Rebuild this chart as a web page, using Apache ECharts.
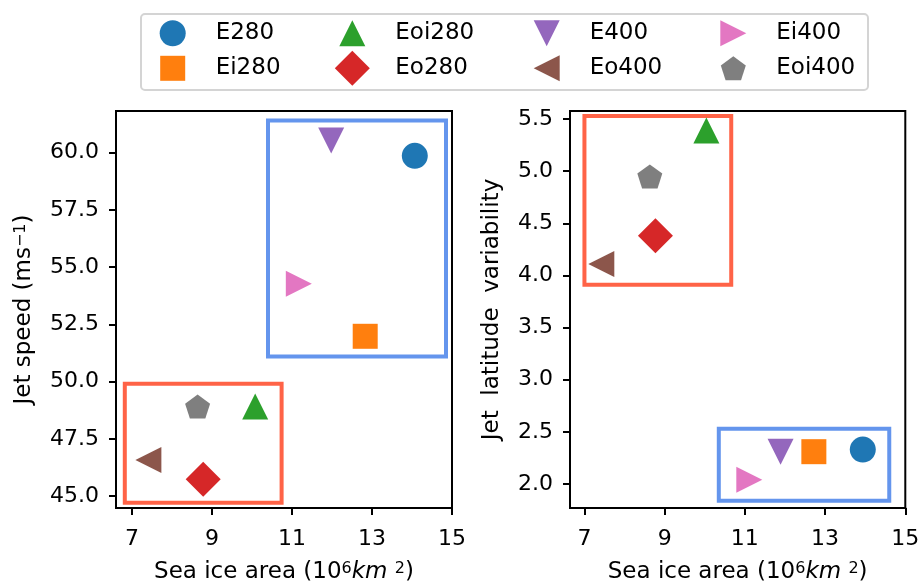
<!DOCTYPE html>
<html><head><meta charset="utf-8">
<script src="https://cdn.jsdelivr.net/npm/echarts@6/dist/echarts.min.js"></script>
<style>html,body{margin:0;padding:0;background:#fff}#c{width:919px;height:583px}</style>
</head><body><div id="c"></div>
<script>
// ---- data ----
const names = ['E280', 'Ei280', 'Eoi280', 'Eo280', 'E400', 'Eo400', 'Ei400', 'Eoi400'];
const speedSeaIce = [14.07, 12.83, 10.08, 8.78, 11.98, 7.41, 11.17, 8.64];
const speedValues = [59.86, 51.98, 48.91, 45.74, 60.53, 46.58, 54.27, 48.91];
const latSeaIce = [13.94, 12.72, 10.04, 8.77, 11.89, 7.42, 11.11, 8.63];
const latValues = [2.33, 2.31, 5.39, 4.38, 2.31, 4.11, 2.04, 4.95];
const xTicks = [7, 9, 11, 13, 15];
const speedTicks = [45, 47.5, 50, 52.5, 55, 57.5, 60];
const latTicks = [2.0, 2.5, 3.0, 3.5, 4.0, 4.5, 5.0, 5.5];
// group boxes [xMin, yMin, xMax, yMax]
const speedBlueBox = [10.4, 51.1, 14.85, 61.4];
const speedRedBox = [6.82, 44.71, 10.74, 49.91];
const latRedBox = [7.0, 3.91, 10.66, 5.53];
const latBlueBox = [10.35, 1.84, 14.6, 2.53];

// ---- styles ----
const FONT = 'DejaVu Sans';
const colors = ['#1f77b4', '#ff7f0e', '#2ca02c', '#d62728', '#9467bd', '#8c564b', '#e377c2', '#7f7f7f'];
const pentagon = 'path://M0,-1 L0.951,-0.309 L0.588,0.809 L-0.588,0.809 L-0.951,-0.309 Z';
const triDown = 'path://M-1,-1 L1,-1 L0,1 Z';
const triLeft = 'path://M1,-1 L1,1 L-1,0 Z';
const triRight = 'path://M-1,-1 L-1,1 L1,0 Z';
const symbols = ['circle', 'rect', 'triangle', 'diamond', triDown, triLeft, triRight, pentagon];
const sizes = [[26, 26], [25, 25], [26, 26], [35, 35], [26, 26], [26, 26], [26, 26], [25, 24]];
const legendColX = [172.7, 352.3, 546.7, 733.3];
const legendRowY = [33.3, 68.3];
const BLUE = '#6495ED', RED = '#FF6347';

const gridDefs = [
  {left: 116, top: 111, width: 336, height: 397},
  {left: 570, top: 111, width: 335.3, height: 397}
];

function xAxisDef(gi, min) {
  return {
    type: 'value', gridIndex: gi, min: min, max: 15,
    axisLine: {show: true, onZero: false, lineStyle: {color: '#000', width: 2}},
    axisTick: {show: true, length: 7, lineStyle: {color: '#000', width: 2}, customValues: xTicks},
    axisLabel: {customValues: xTicks, fontSize: 22, fontFamily: FONT, color: '#000', margin: 20},
    splitLine: {show: false},
    name: '{n|Sea ice area (10}{s|6}{i|km}{n| }{s|2}{n|)}',
    nameLocation: 'middle', nameGap: 53, nameMoveOverlap: false,
    nameTextStyle: {
      fontSize: 23, fontFamily: FONT, color: '#000',
      rich: {
        n: {fontSize: 23, fontFamily: FONT, color: '#000'},
        i: {fontSize: 23, fontFamily: FONT, color: '#000', fontStyle: 'italic'},
        s: {fontSize: 16, fontFamily: FONT, color: '#000', verticalAlign: 'top'}
      }
    }
  };
}
function yAxisDef(gi, min, max, ticks, name, gap) {
  return {
    type: 'value', gridIndex: gi, min: min, max: max,
    axisLine: {show: true, onZero: false, lineStyle: {color: '#000', width: 2}},
    axisTick: {show: true, length: 7, lineStyle: {color: '#000', width: 2}, customValues: ticks},
    axisLabel: {customValues: ticks, fontSize: 22, fontFamily: FONT, color: '#000', margin: 17,
      formatter: v => Number(v).toFixed(1)},
    splitLine: {show: false},
    name: name, nameLocation: 'middle', nameGap: gap, nameMoveOverlap: false,
    nameTextStyle: {
      fontSize: 23, fontFamily: FONT, color: '#000',
      rich: {
        n: {fontSize: 23, fontFamily: FONT, color: '#000'},
        s: {fontSize: 16, fontFamily: FONT, color: '#000', verticalAlign: 'top'}
      }
    }
  };
}

function boxArea(box, color) {
  return [{coord: [box[0], box[1]], itemStyle: {color: 'rgba(0,0,0,0)', borderColor: color, borderWidth: 4}},
          {coord: [box[2], box[3]]}];
}

const series = [];
[[speedSeaIce, speedValues], [latSeaIce, latValues]].forEach((pair, gi) => {
  names.forEach((nm, i) => {
    series.push({
      type: 'scatter', name: nm, xAxisIndex: gi, yAxisIndex: gi,
      symbol: symbols[i], symbolSize: sizes[i],
      itemStyle: {color: colors[i], opacity: 1},
      emphasis: {disabled: true}, z: 3,
      data: [[pair[0][i], pair[1][i]]]
    });
  });
});
series.push({
  type: 'scatter', name: 'boxes0', xAxisIndex: 0, yAxisIndex: 0, data: [], silent: true,
  markArea: {silent: true, z: 1, label: {show: false},
    data: [boxArea(speedBlueBox, BLUE), boxArea(speedRedBox, RED)]}
});
series.push({
  type: 'scatter', name: 'boxes1', xAxisIndex: 1, yAxisIndex: 1, data: [], silent: true,
  markArea: {silent: true, z: 1, label: {show: false},
    data: [boxArea(latRedBox, RED), boxArea(latBlueBox, BLUE)]}
});

const legends = names.map((nm, i) => {
  const col = Math.floor(i / 2), row = i % 2;
  const w = sizes[i][0], h = sizes[i][1];
  return {
    data: [{name: nm, icon: symbols[i]}], selectedMode: false, padding: 0, itemGap: 0,
    left: legendColX[col] - w / 2, top: legendRowY[row] - h / 2,
    itemWidth: w, itemHeight: h, symbolKeepAspect: false,
    textStyle: {fontSize: 23, fontFamily: FONT, color: '#000', padding: [0, 0, 0, 38 - w / 2]}
  };
});

const chart = echarts.init(document.getElementById('c'), null, {renderer: 'canvas'});
chart.setOption({
  backgroundColor: '#fff',
  animation: false,
  grid: gridDefs.map(g => Object.assign({show: true, borderColor: '#000', borderWidth: 2,
    backgroundColor: '#fff', containLabel: false, outerBoundsMode: 'none'}, g)),
  xAxis: [xAxisDef(0, 6.6), xAxisDef(1, 6.64)],
  yAxis: [
    yAxisDef(0, 44.48, 61.82, speedTicks, '{n|Jet speed (ms}{s|\u22121}{n|)}', 80),
    yAxisDef(1, 1.77, 5.577, latTicks, 'Jet  latitude  variability', 66)
  ],
  legend: legends,
  graphic: [{
    type: 'rect', left: 140, top: 13, z: -1,
    shape: {width: 727, height: 76, r: 4},
    style: {fill: '#fff', stroke: '#d4d4d4', lineWidth: 2}
  }],
  series: series
});
</script>
</body></html>
